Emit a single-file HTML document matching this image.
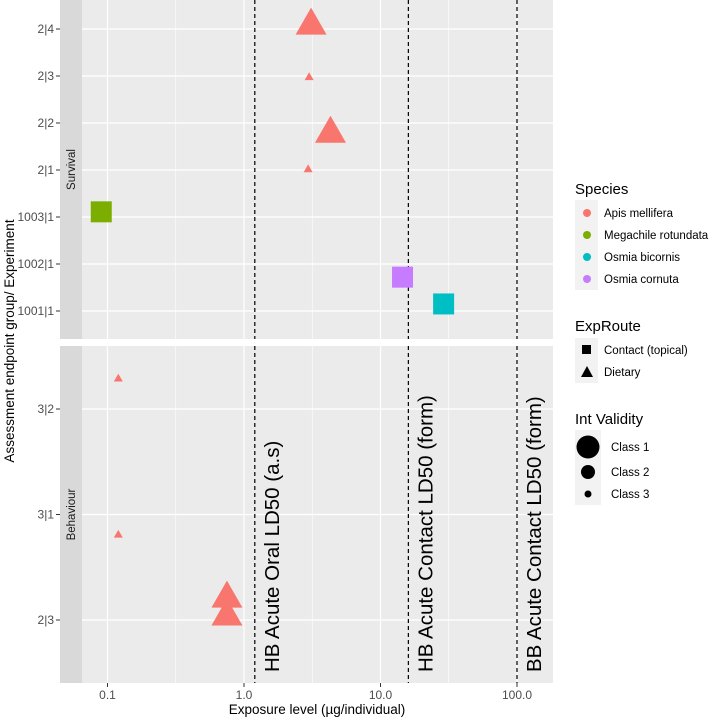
<!DOCTYPE html>
<html><head><meta charset="utf-8"><style>
body{margin:0;background:#fff;}
svg{display:block;font-family:"Liberation Sans",sans-serif;}
</style></head><body>
<svg id="c" width="709" height="718" xmlns="http://www.w3.org/2000/svg"></svg>
<script>
const topCats=["2|4","2|3","2|2","2|1","1003|1","1002|1","1001|1"];
const botCats=["3|2","3|1","2|3"];
const xTicks=[0.1,1,10,100];
const xTickLabels=["0.1","1.0","10.0","100.0"];
const ptPanel=["top","top","top","top","top","top","top","bot","bot","bot","bot"];
const ptCat=["2|4","2|3","2|2","2|1","1003|1","1002|1","1001|1","3|2","3|1","2|3","2|3"];
const ptJitter=[-0.11,0.02,0.19,-0.02,-0.11,0.28,-0.15,-0.29,0.19,-0.22,-0.05];
const ptX=[3.1,3.0,4.3,2.95,0.09,14.5,29,0.12,0.12,0.75,0.75];
const ptSpecies=["Apis mellifera","Apis mellifera","Apis mellifera","Apis mellifera","Megachile rotundata","Osmia cornuta","Osmia bicornis","Apis mellifera","Apis mellifera","Apis mellifera","Apis mellifera"];
const ptRoute=["Dietary","Dietary","Dietary","Dietary","Contact","Contact","Contact","Dietary","Dietary","Dietary","Dietary"];
const ptClass=[1,3,1,3,2,2,2,3,3,1,1];
const refX=[1.2,16,100];
const refLabels=["HB Acute Oral LD50 (a.s)","HB Acute Contact LD50 (form)","BB Acute Contact LD50 (form)"];
const speciesNames=["Apis mellifera","Megachile rotundata","Osmia bicornis","Osmia cornuta"];
const speciesColors=["#F8766D","#7CAE00","#00BFC4","#C77CFF"];

const svg=document.getElementById('c');
const NS="http://www.w3.org/2000/svg";
function mk(t,a,p){const e=document.createElementNS(NS,t);for(const k in a)e.setAttribute(k,a[k]);(p||svg).appendChild(e);return e;}
const PX0=82,PX1=553;
const X=v=>244+136.5*Math.log10(v);
const panels={top:{y0:0,y1:339,cats:topCats,first:29,step:47},bot:{y0:346,y1:683,cats:botCats,first:409,step:105.5}};
function Yc(panel,cat,j){const p=panels[panel];return p.first+(p.cats.indexOf(cat)+j)*p.step;}
const sizes={1:[31,24],2:[22,21],3:[9,8]};

for(const key of ["top","bot"]){
  const p=panels[key];
  const g=mk('g',{});
  
  
  mk('rect',{x:PX0,y:p.y0,width:PX1-PX0,height:p.y1-p.y0,fill:'#EBEBEB'},g);
  const s=mk('rect',{x:60,y:p.y0,width:22,height:p.y1-p.y0,fill:'#D9D9D9'},g);
  
  
  const cy=(p.y0+p.y1)/2;
  const st=mk('text',{x:75,y:cy,transform:`rotate(-90 75 ${cy})`,'text-anchor':'middle','font-size':11.5,fill:'#1A1A1A'},g);
  st.textContent=key==="top"?"Survival":"Behaviour";
  for(let i=0;i<xTicks.length-1;i++){const xm=X(Math.sqrt(xTicks[i]*xTicks[i+1]));mk('line',{x1:xm,x2:xm,y1:p.y0,y2:p.y1,stroke:'#fff','stroke-width':0.6},g);}
  xTicks.forEach(v=>mk('line',{x1:X(v),x2:X(v),y1:p.y0,y2:p.y1,stroke:'#fff','stroke-width':1.2},g));
  p.cats.forEach((c,i)=>{const y=p.first+i*p.step;
    mk('line',{x1:PX0,x2:PX1,y1:y,y2:y,stroke:'#fff','stroke-width':1.2},g);
    mk('line',{x1:56,x2:60,y1:y,y2:y,stroke:'#333'},g);
    const t=mk('text',{x:54,y:y+4,'text-anchor':'end','font-size':12,fill:'#4D4D4D'},g);
    
    
    t.textContent=c;});
  refX.forEach((v,i)=>{mk('line',{x1:X(v),x2:X(v),y1:p.y0,y2:p.y1,stroke:'#000','stroke-width':1.2,'stroke-dasharray':'4,3'},g);});
}
refX.forEach((v,i)=>{const x=X(v)+24,y=672;
  const t=mk('text',{x:x,y:y,transform:`rotate(-90 ${x} ${y})`,'font-size':20.5,fill:'#000'});
  
  
  t.textContent=refLabels[i];});
ptX.forEach((v,i)=>{
  const x=X(v),y=Yc(ptPanel[i],ptCat[i],ptJitter[i]);
  const col=speciesColors[speciesNames.indexOf(ptSpecies[i])];
  let e;
  if(ptRoute[i]==="Contact"){const s=sizes[ptClass[i]][1];e=mk('rect',{x:x-s/2,y:y-s/2,width:s,height:s,fill:col});}
  else{const s=sizes[ptClass[i]][0],h=s*0.87;e=mk('polygon',{points:`${x},${y-h*0.6} ${x-s/2},${y+h*0.4} ${x+s/2},${y+h*0.4}`,fill:col});}
  
  
});
xTicks.forEach((v,i)=>{mk('line',{x1:X(v),x2:X(v),y1:683,y2:687,stroke:'#333'});
  const t=mk('text',{x:X(v),y:699,'text-anchor':'middle','font-size':12,fill:'#4D4D4D'});
  
  
  t.textContent=xTickLabels[i];});
const xt=mk('text',{x:317,y:714,'text-anchor':'middle','font-size':13.5,fill:'#000'});


xt.textContent="Exposure level (µg/individual)";
const yt=mk('text',{x:14,y:341,transform:'rotate(-90 14 341)','text-anchor':'middle','font-size':13.5,fill:'#000'});


yt.textContent="Assessment endpoint group/ Experiment";
function title(y,txt){const t=mk('text',{x:575,y:y,'font-size':15,fill:'#000'});t.textContent=txt;}
function label(x,y,txt){const t=mk('text',{x:x,y:y+4,'font-size':11.5,fill:'#000'});t.textContent=txt;}
title(194,"Species");
mk('rect',{x:575,y:200,width:23,height:90,fill:'#F2F2F2'});
[213,235,257,279].forEach((y,i)=>{mk('circle',{cx:587,cy:y,r:4,fill:speciesColors[i]});label(604,y,speciesNames[i]);});
title(331,"ExpRoute");
mk('rect',{x:575,y:338,width:23,height:45,fill:'#F2F2F2'});
mk('rect',{x:582,y:345,width:9,height:9,fill:'#000'});label(604,350,"Contact (topical)");
mk('polygon',{points:"587,366 581,377 593,377",fill:'#000'});label(604,372,"Dietary");
title(424,"Int Validity");
mk('rect',{x:575,y:430,width:26,height:75,fill:'#F2F2F2'});
mk('circle',{cx:588,cy:447,r:11.5,fill:'#000'});label(611,447,"Class 1");
mk('circle',{cx:588,cy:472,r:7,fill:'#000'});label(611,472,"Class 2");
mk('circle',{cx:588,cy:494,r:3.5,fill:'#000'});label(611,494,"Class 3");
</script>
</body></html>
